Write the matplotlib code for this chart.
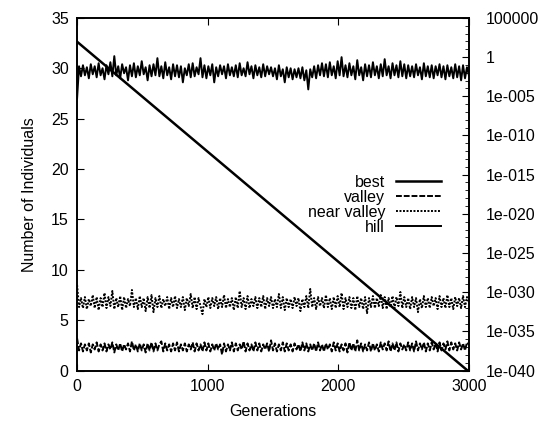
import numpy as np
import matplotlib
matplotlib.use("Agg")
import matplotlib.pyplot as plt
from matplotlib.ticker import FixedLocator, FuncFormatter, LogLocator, NullFormatter

plt.rcParams['font.family'] = ['Liberation Sans', 'DejaVu Sans']

# generation step between the stored samples
step = 15

hill = [
    27.0, 30.2, 29.2, 30.3, 29.3, 30.1, 29.0, 30.4, 29.4, 30.2,
    29.1, 30.5, 29.3, 30.0, 28.9, 30.3, 29.4, 30.6, 29.2, 31.2,
    29.3, 30.2, 29.0, 30.4, 29.5, 30.1, 28.8, 30.3, 29.2, 30.5,
    29.1, 30.2, 29.3, 30.7, 29.4, 30.1, 28.8, 30.3, 29.2, 30.4,
    29.3, 31.0, 29.2, 30.2, 29.0, 30.6, 29.3, 30.1, 28.9, 30.4,
    29.2, 30.3, 29.1, 30.2, 28.6, 30.0, 29.3, 30.4, 29.1, 30.5,
    29.2, 30.1, 29.4, 31.0, 29.1, 30.3, 29.0, 30.2, 29.3, 30.4,
    28.6, 30.1, 29.2, 30.3, 29.4, 30.2, 29.0, 30.4, 29.3, 30.1,
    29.2, 30.3, 29.1, 30.5, 29.3, 30.0, 29.2, 30.6, 29.4, 30.2,
    29.0, 30.3, 29.3, 30.1, 29.1, 30.4, 29.2, 30.2, 29.4, 30.1,
    29.2, 30.0, 28.9, 30.3, 29.2, 29.9, 28.6, 30.1, 29.1, 30.0,
    28.9, 29.9, 29.1, 30.0, 29.0, 30.1, 28.8, 29.8, 27.9, 29.9,
    29.1, 30.2, 29.0, 30.3, 29.3, 30.5, 29.2, 30.4, 29.1, 30.6,
    29.3, 30.2, 29.0, 30.7, 29.3, 31.1, 29.2, 30.3, 29.1, 30.5,
    29.3, 30.2, 28.9, 30.8, 29.3, 30.1, 28.8, 30.4, 29.2, 30.3,
    29.1, 30.6, 29.3, 30.2, 29.0, 30.4, 29.2, 30.9, 29.3, 30.2,
    29.0, 30.5, 29.3, 30.3, 29.1, 30.7, 29.2, 30.4, 29.0, 30.3,
    29.2, 30.2, 29.1, 30.4, 29.3, 30.1, 28.9, 30.5, 29.2, 30.2,
    29.1, 30.3, 29.0, 30.2, 29.3, 30.4, 29.1, 30.2, 28.9, 30.3,
    29.2, 30.1, 29.0, 30.4, 29.1, 30.2, 28.8, 30.3, 29.0, 30.1,
    29.3,
]

near_valley = [
    8.5, 6.3, 7.2, 6.2, 7.3, 6.1, 7.1, 6.4, 7.5, 6.2,
    7.3, 6.0, 7.2, 6.3, 7.7, 6.2, 7.3, 6.4, 7.9, 6.1,
    7.2, 6.3, 7.4, 6.0, 7.3, 6.2, 7.1, 6.4, 8.0, 6.3,
    7.2, 6.1, 7.4, 6.3, 7.2, 5.9, 7.3, 6.2, 7.5, 5.8,
    7.2, 6.3, 7.4, 6.2, 7.1, 6.4, 7.3, 6.1, 7.2, 6.3,
    7.4, 6.2, 7.1, 6.3, 7.3, 6.0, 7.2, 6.4, 7.6, 6.2,
    7.3, 6.1, 7.2, 6.4, 5.6, 7.1, 6.3, 7.3, 6.2, 7.2,
    6.4, 7.3, 6.1, 7.2, 6.3, 7.5, 6.2, 7.1, 6.3, 7.2,
    6.0, 7.3, 6.2, 7.9, 6.3, 7.2, 6.1, 7.4, 6.2, 7.1,
    6.4, 7.3, 6.2, 7.2, 6.3, 7.4, 6.1, 7.2, 6.4, 7.3,
    6.2, 7.1, 6.3, 7.6, 6.2, 7.3, 6.0, 7.2, 6.3, 7.1,
    6.2, 7.3, 6.4, 7.2, 5.9, 7.1, 6.3, 7.4, 6.2, 8.1,
    6.3, 7.2, 6.1, 7.3, 6.4, 7.2, 6.2, 7.5, 6.3, 7.2,
    6.1, 7.3, 6.2, 7.4, 6.3, 7.7, 6.1, 7.2, 6.3, 7.3,
    6.2, 7.2, 6.0, 7.4, 6.3, 7.2, 6.1, 7.3, 5.7, 7.2,
    6.3, 7.4, 6.2, 7.2, 6.4, 7.5, 6.2, 7.3, 6.1, 7.2,
    6.3, 7.4, 6.2, 7.3, 6.4, 7.8, 6.2, 7.3, 6.3, 7.2,
    6.1, 7.3, 6.3, 7.2, 5.8, 7.1, 6.2, 7.4, 6.3, 7.2,
    6.2, 7.3, 6.4, 7.2, 6.1, 7.4, 6.3, 7.2, 6.2, 7.5,
    6.3, 7.2, 6.1, 7.3, 6.4, 7.2, 6.2, 7.4, 6.3, 7.3,
    6.8,
]

valley = [
    3.2, 2.0, 2.7, 1.9, 2.6, 2.0, 2.7, 1.8, 2.6, 2.1,
    2.8, 1.9, 2.6, 2.0, 2.7, 1.9, 2.6, 2.1, 2.8, 1.8,
    2.6, 2.0, 2.7, 1.9, 2.6, 2.1, 2.7, 1.9, 2.9, 2.0,
    2.6, 1.9, 2.7, 2.0, 2.6, 1.8, 2.7, 2.0, 2.8, 1.9,
    2.7, 2.0, 2.6, 2.9, 1.9, 2.7, 2.0, 2.6, 1.9, 2.7,
    2.0, 2.8, 1.9, 2.6, 2.0, 2.7, 1.9, 2.6, 2.1, 2.8,
    1.9, 2.7, 2.0, 2.6, 1.9, 2.8, 2.0, 2.7, 1.9, 2.6,
    2.0, 2.7, 2.1, 2.6, 1.6, 2.7, 1.9, 2.6, 2.0, 2.8,
    1.9, 2.7, 2.0, 2.6, 2.1, 2.9, 1.9, 2.7, 2.0, 2.6,
    1.9, 2.8, 2.0, 2.7, 1.9, 2.6, 2.1, 2.7, 1.9, 3.0,
    2.0, 2.7, 1.9, 2.6, 2.0, 2.8, 1.9, 2.7, 2.0, 2.6,
    1.9, 2.7, 2.1, 2.6, 1.9, 2.8, 2.0, 2.7, 1.9, 2.6,
    2.0, 2.7, 1.9, 2.8, 2.0, 2.6, 1.9, 2.7, 2.1, 2.6,
    1.9, 2.8, 2.0, 2.7, 1.9, 2.6, 2.0, 2.7, 1.8, 2.8,
    2.0, 2.7, 1.9, 3.0, 2.0, 2.7, 1.9, 2.6, 2.0, 2.8,
    1.9, 2.7, 2.0, 2.6, 1.9, 2.8, 2.1, 2.7, 2.0, 2.9,
    1.9, 2.7, 2.0, 2.8, 1.9, 2.7, 2.1, 2.6, 2.0, 2.8,
    2.0, 2.7, 1.9, 2.9, 2.0, 2.7, 2.1, 2.8, 1.9, 2.7,
    2.0, 2.8, 2.1, 2.7, 1.9, 2.8, 2.0, 2.7, 2.1, 2.9,
    2.0, 2.8, 2.1, 2.7, 2.0, 2.8, 2.1, 2.7, 2.0, 2.8,
    2.6,
]

best_gen = [0, 2990]
best = [90.0, 1e-40]

gens = np.arange(len(hill)) * step

fig = plt.figure(figsize=(5.39, 4.25), dpi=100)
ax = fig.add_axes([0.143, 0.128, 0.727, 0.830])
ax2 = ax.twinx()

ax.plot(gens, valley, color='black', lw=1.4, ls=(0, (3, 1)), label='valley')
ax.plot(gens, near_valley, color='black', lw=1.4, ls=(0, (1, 0.8)), label='near valley')
ax.plot(gens, hill, color='black', lw=1.4, label='hill')
ax2.plot(best_gen, best, color='black', lw=1.8, label='best')

ax.set_xlim(0, 3000)
ax.set_ylim(0, 35)
ax.set_xticks([0, 1000, 2000, 3000])
ax.set_yticks(range(0, 36, 5))
ax.set_xlabel('Generations', fontsize=11.5, labelpad=7)
ax.set_ylabel('Number of Individuals', fontsize=11.5, labelpad=10)
ax.tick_params(axis='both', direction='in', labelsize=11.5, length=5, top=True, pad=6)
ax.tick_params(axis='y', right=False)

ax2.set_yscale('log')
ax2.set_ylim(1e-40, 1e5)
ax2.yaxis.set_major_locator(FixedLocator([10.0 ** e for e in range(5, -41, -5)]))
ax2.yaxis.set_minor_locator(LogLocator(base=10, numticks=100, subs=(1.0,)))
ax2.yaxis.set_minor_formatter(NullFormatter())


def fmt(v, pos):
    e = int(round(np.log10(v)))
    if e == 5:
        return '100000'
    if e == 0:
        return '1'
    return '1e-%03d' % abs(e)


ax2.yaxis.set_major_formatter(FuncFormatter(fmt))
ax2.tick_params(axis='y', which='major', direction='in', labelsize=11.5, length=5, pad=12)
ax2.tick_params(axis='y', which='minor', direction='in', length=3)

for a in (ax, ax2):
    for s in a.spines.values():
        s.set_linewidth(1.2)

h1, l1 = ax2.get_legend_handles_labels()
h2, l2 = ax.get_legend_handles_labels()
leg = ax2.legend(h1 + h2, l1 + l2, loc='center right', bbox_to_anchor=(0.945, 0.47),
                 frameon=False, markerfirst=False, fontsize=11.5, handlelength=2.8,
                 labelspacing=0.0, handletextpad=0.7, borderaxespad=0)

fig.savefig('out.png', dpi=100)
